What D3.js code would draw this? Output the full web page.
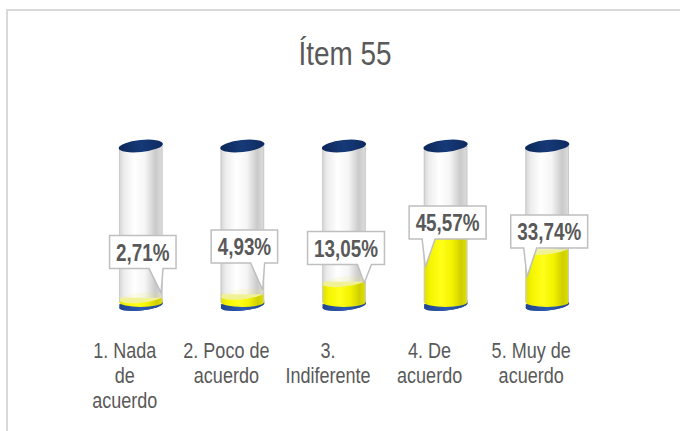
<!DOCTYPE html>
<html>
<head>
<meta charset="utf-8">
<script src="https://cdn.jsdelivr.net/npm/d3@7/dist/d3.min.js"></script>
<style>
  html, body { margin: 0; padding: 0; background: #fff; }
  svg { display: block; }
  .narrow { font-family: "Liberation Sans", Arial, sans-serif; }
</style>
</head>
<body>
<svg id="chart" width="680" height="431"></svg>
<script>
// Survey answers for item 55 (percent of respondents)
const title = "Ítem 55";
const categories = ["1. Nada de acuerdo", "2. Poco de acuerdo", "3. Indiferente", "4. De acuerdo", "5. Muy de acuerdo"];
const categoryLines = [["1. Nada", "de", "acuerdo"], ["2. Poco de", "acuerdo"], ["3.", "Indiferente"], ["4. De", "acuerdo"], ["5. Muy de", "acuerdo"]];
const values = [2.71, 4.93, 13.05, 45.57, 33.74];
const axisMax = 100;

// Callout placement, in value units: where each box sits and where its pointer ends
const calloutLevel = [32, 35.6, 34.6, 51, 45.2];
const pointerLevel = [5.8, 7.7, 12.2, 22.4, 16.0];
const pointerSide = [1, 1, 1, -1, -1];

const W = 680, H = 431;
const SQUEEZE = 0.82; // condensed lettering
const svg = d3.select("#chart");

const x = d3.scaleBand().domain(categories).range([90, 598]).padding(0);
const y = d3.scaleLinear().domain([0, axisMax]).range([302, 146]);

const fmt = v => d3.format(".2f")(v).replace(".", ",") + "%";
const squeezeAt = (px, py) => `translate(${px},${py}) scale(${SQUEEZE},1)`;

const defs = svg.append("defs");
function hGrad(id, stops) {
  const g = defs.append("linearGradient").attr("id", id).attr("x1", "0%").attr("x2", "100%").attr("y1", "0%").attr("y2", "0%");
  stops.forEach(([o, c, a]) => g.append("stop").attr("offset", o).attr("stop-color", c).attr("stop-opacity", a == null ? 1 : a));
}
hGrad("glass", [["0%", "#d0d0d0"], ["12%", "#ebebeb"], ["35%", "#ffffff"], ["60%", "#f4f4f4"], ["84%", "#c4c4c4"], ["100%", "#dadada"]]);
hGrad("liquid", [["0%", "#dede00"], ["15%", "#f5f500"], ["40%", "#ffff1a"], ["65%", "#f2f200"], ["86%", "#cfcf00"], ["100%", "#e0e000"]]);
hGrad("cap", [["0%", "#0c275a"], ["50%", "#163a78"], ["100%", "#0d2a5f"]]);
hGrad("base", [["0%", "#1f458f"], ["50%", "#2d5bb0"], ["100%", "#1f458f"]]);

// Chart frame
svg.append("rect").attr("x", 0).attr("y", 0).attr("width", W).attr("height", H).attr("fill", "#fff");
svg.append("rect").attr("x", 7).attr("y", 10).attr("width", 720).attr("height", 460)
  .attr("fill", "none").attr("stroke", "#d9d9d9").attr("stroke-width", 2);

// Title
svg.append("text").attr("class", "narrow").attr("transform", squeezeAt(345, 65))
  .attr("text-anchor", "middle").attr("font-size", 34).attr("fill", "#595959").text(title);

const rx = x.bandwidth() * 0.214;
const ry = 5;
const tilt = -6;

const g = svg.append("g");
const bars = g.selectAll("g.cyl").data(values).join("g").attr("class", "cyl");

bars.each(function (v, i) {
  const sel = d3.select(this);
  const cx = x(categories[i]) + x.bandwidth() / 2;
  const y0 = y(0), yTop = y(axisMax), yv = y(v);
  const ell = (cy) => `rotate(${tilt},${cx},${cy})`;

  // back wall of the glass
  sel.append("rect").attr("x", cx - rx).attr("y", yTop).attr("width", 2 * rx).attr("height", y0 - yTop)
    .attr("fill", "url(#glass)").attr("opacity", 0.55);

  // blue base disk
  sel.append("path")
    .attr("d", `M${cx - rx},${y0} L${cx - rx},${y0 + 3.5} A${rx},${ry} 0 0 0 ${cx + rx},${y0 + 3.5} L${cx + rx},${y0} Z`)
    .attr("transform", ell(y0)).attr("fill", "url(#base)");
  sel.append("ellipse").attr("cx", cx).attr("cy", y0 + 3.5).attr("rx", rx).attr("ry", ry)
    .attr("transform", ell(y0 + 3.5)).attr("fill", "url(#base)");

  // liquid column
  sel.append("path")
    .attr("d", `M${cx - rx},${yv} L${cx - rx},${y0} A${rx},${ry} 0 0 0 ${cx + rx},${y0} L${cx + rx},${yv} Z`)
    .attr("fill", "url(#liquid)");
  sel.append("ellipse").attr("cx", cx).attr("cy", yv).attr("rx", rx).attr("ry", ry)
    .attr("transform", ell(yv)).attr("fill", "#f1f196");

  // front of the glass above the liquid
  sel.append("rect").attr("x", cx - rx).attr("y", yTop).attr("width", 2 * rx).attr("height", Math.max(0, yv - yTop))
    .attr("fill", "url(#glass)").attr("opacity", 0.78);
  sel.append("line").attr("x1", cx - rx + 0.5).attr("x2", cx - rx + 0.5).attr("y1", yTop).attr("y2", y0)
    .attr("stroke", "#cccccc").attr("stroke-width", 1);
  sel.append("line").attr("x1", cx + rx - 0.5).attr("x2", cx + rx - 0.5).attr("y1", yTop).attr("y2", y0)
    .attr("stroke", "#cacaca").attr("stroke-width", 1);

  // top cap
  sel.append("ellipse").attr("cx", cx).attr("cy", yTop).attr("rx", rx + 0.5).attr("ry", ry + 1)
    .attr("transform", ell(yTop)).attr("fill", "url(#cap)");
});

// Value callouts
const callouts = svg.append("g").selectAll("g.callout").data(values).join("g").attr("class", "callout");
callouts.each(function (v, i) {
  const sel = d3.select(this);
  const cx = x(categories[i]) + x.bandwidth() / 2;
  const bx = cx + 2, by = y(calloutLevel[i]);
  const path = sel.append("path");
  const txt = sel.append("text").attr("class", "narrow").attr("transform", squeezeAt(bx, by + 8.5))
    .attr("text-anchor", "middle").attr("font-size", 23).attr("font-weight", "bold")
    .attr("fill", "#595959").text(fmt(v));
  const tw = txt.node().getComputedTextLength() * SQUEEZE;
  const w = tw + 13, h = 33;
  const L = bx - w / 2, R = bx + w / 2, T = by - h / 2, B = by + h / 2;
  const side = pointerSide[i];
  const tipX = cx + side * (rx - 1.5), tipY = y(pointerLevel[i]);
  let d;
  if (side > 0) {
    d = `M${L},${T} H${R} V${B} H${R - 13} L${tipX},${tipY} L${R - 27},${B} H${L} Z`;
  } else {
    d = `M${L},${T} H${R} V${B} H${L + 26} L${tipX},${tipY} L${L + 13},${B} H${L} Z`;
  }
  path.attr("d", d).attr("fill", "#fff").attr("stroke", "#bfbfbf").attr("stroke-width", 1.5)
    .attr("stroke-linejoin", "miter");
});

// Category labels
const labels = svg.append("g").selectAll("text.cat").data(categories).join("text")
  .attr("class", "narrow cat").attr("text-anchor", "middle").attr("font-size", 22).attr("fill", "#595959")
  .attr("transform", (c) => squeezeAt(x(c) + x.bandwidth() / 2 - 16, 358));
labels.each(function (c, i) {
  const t = d3.select(this);
  categoryLines[i].forEach((line, k) => {
    t.append("tspan").attr("x", 0).attr("y", k * 25).text(line);
  });
});
</script>
</body>
</html>
